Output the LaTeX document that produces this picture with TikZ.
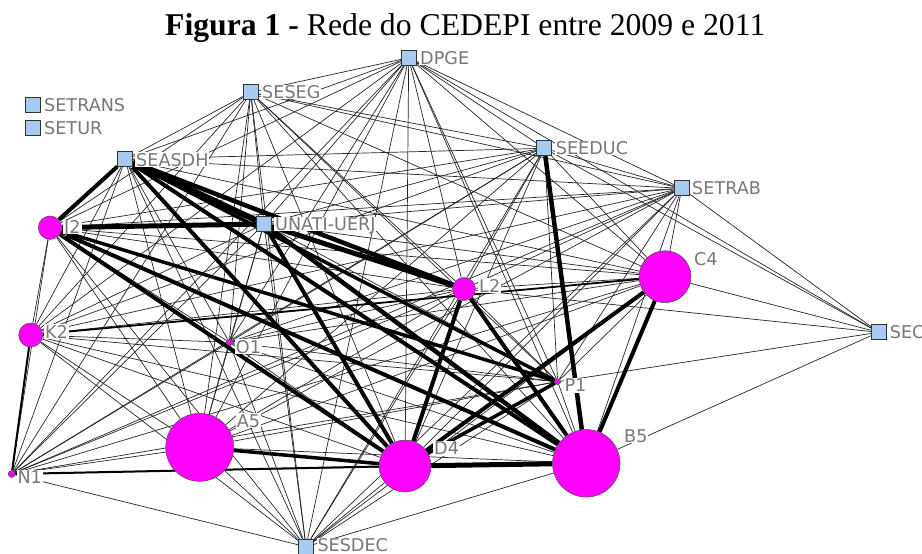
\documentclass[tikz,border=0pt]{standalone}
\usepackage{fontspec}
\setmainfont{Liberation Serif}
\newfontfamily\labfont{DejaVu Sans}
\pgfdeclarelayer{edges}
\pgfsetlayers{edges,main}
\definecolor{sqblue}{RGB}{166,202,240}
\definecolor{mag}{RGB}{255,0,255}
\definecolor{labgray}{RGB}{120,120,120}
\tikzset{
  org/.style={rectangle, draw=black!80, line width=0.8pt, fill=sqblue,
    minimum size=15pt, inner sep=0pt},
  actor/.style={circle, draw=black!70, line width=0.5pt, fill=mag,
    inner sep=0pt, minimum size=#1},
  lab/.style={font=\labfont\fontsize{17.6}{17.6}\selectfont, text=labgray,
    fill=white, inner sep=1pt, text height=12.8pt, text depth=0pt, anchor=west},
  tie/.style={line width=0.7pt, draw=black!85},
}
\begin{document}
\begin{tikzpicture}[x=1pt,y=-1pt]
\useasboundingbox (0,0) rectangle (922,554);

% title
\node[anchor=base west, inner sep=0pt, font=\fontsize{31.7}{31.7}\selectfont] (title) at (165,35)
  {\textbf{Figura 1 -} Rede do CEDEPI entre 2009 e 2011};

% organisations
\node[org] (dp) at (408.7,57.7) {};
\node[org] (ss) at (250.7,92.3) {};
\node[org] (tr) at (33.3,105) {};
\node[org] (tu) at (33.3,128.3) {};
\node[org] (sa) at (125.3,159.3) {};
\node[org] (se) at (544.3,148.3) {};
\node[org] (st) at (681.7,188.3) {};
\node[org] (un) at (264,224) {};
\node[org] (sc) at (878.7,332.3) {};
\node[org] (sd) at (306,546.7) {};

% people
\node[actor=23.4pt] (j2) at (50,227.7) {};
\node[actor=23pt] (l2) at (464,289) {};
\node[actor=52pt] (c4) at (665,276.7) {};
\node[actor=24pt] (k2) at (30.7,335) {};
\node[actor=6pt] (o1) at (229.3,342.3) {};
\node[actor=6pt] (p1) at (557.7,381.7) {};
\node[actor=68pt] (a5) at (199.7,447.3) {};
\node[actor=52pt] (d4) at (405,466) {};
\node[actor=67.5pt] (b5) at (586.3,463.3) {};
\node[actor=7pt] (n1) at (11.7,474) {};

% ties
\begin{pgfonlayer}{edges}
  \foreach \a [count=\i] in {dp,ss,sa,se,st,un,j2,l2,c4,k2,o1,p1,a5,d4,b5,n1,sd}
    \foreach \b [count=\j] in {dp,ss,sa,se,st,un,j2,l2,c4,k2,o1,p1,a5,d4,b5,n1,sd}
      {\ifnum\j>\i \draw[tie] (\a) -- (\b); \fi}
  \foreach \b in {st,dp,se,c4,l2,p1,b5}
    \draw[tie] (sc) -- (\b);
  \foreach \a/\b/\w in {sa/un/6, sa/j2/4, sa/l2/4.5, sa/d4/4, sa/b5/4, sa/p1/3.5,
      j2/un/5, j2/d4/4, j2/b5/4, j2/p1/3.5, un/l2/5, un/d4/4, un/b5/4.5,
      l2/d4/4, l2/b5/4, se/b5/4.5, c4/b5/4, c4/d4/4, p1/d4/3.5, d4/b5/5,
      a5/d4/3.5, n1/d4/2, k2/n1/2, k2/c4/1.8}
    \draw[line width=\w pt] (\a) -- (\b);
\end{pgfonlayer}

% labels
\node[lab] (dp-l) at (419,58) {DPGE};
\node[lab] (ss-l) at (261,92) {SESEG};
\node[lab] (tr-l) at (43,105) {SETRANS};
\node[lab] (tu-l) at (43,128) {SETUR};
\node[lab] (sa-l) at (135,159.7) {SEASDH};
\node[lab] (un-l) at (274,224) {UNATI-UERJ};
\node[lab] (j2-l) at (63,227) {J2};
\node[lab] (se-l) at (554.7,148) {SEEDUC};
\node[lab] (st-l) at (691,188) {SETRAB};
\node[lab] (c4-l) at (693,259) {C4};
\node[lab] (l2-l) at (478,285.7) {L2};
\node[lab] (sc-l) at (888.7,332) {SEC};
\node[lab] (k2-l) at (44,331.7) {K2};
\node[lab] (o1-l) at (234.7,346.7) {O1};
\node[lab] (p1-l) at (563.3,385.3) {P1};
\node[lab] (a5-l) at (235.7,420.7) {A5};
\node[lab] (d4-l) at (433,448.3) {D4};
\node[lab] (b5-l) at (623,435.7) {B5};
\node[lab] (n1-l) at (16.3,477.3) {N1};
\node[lab] (sd-l) at (316.3,545) {SESDEC};
\end{tikzpicture}
\end{document}
